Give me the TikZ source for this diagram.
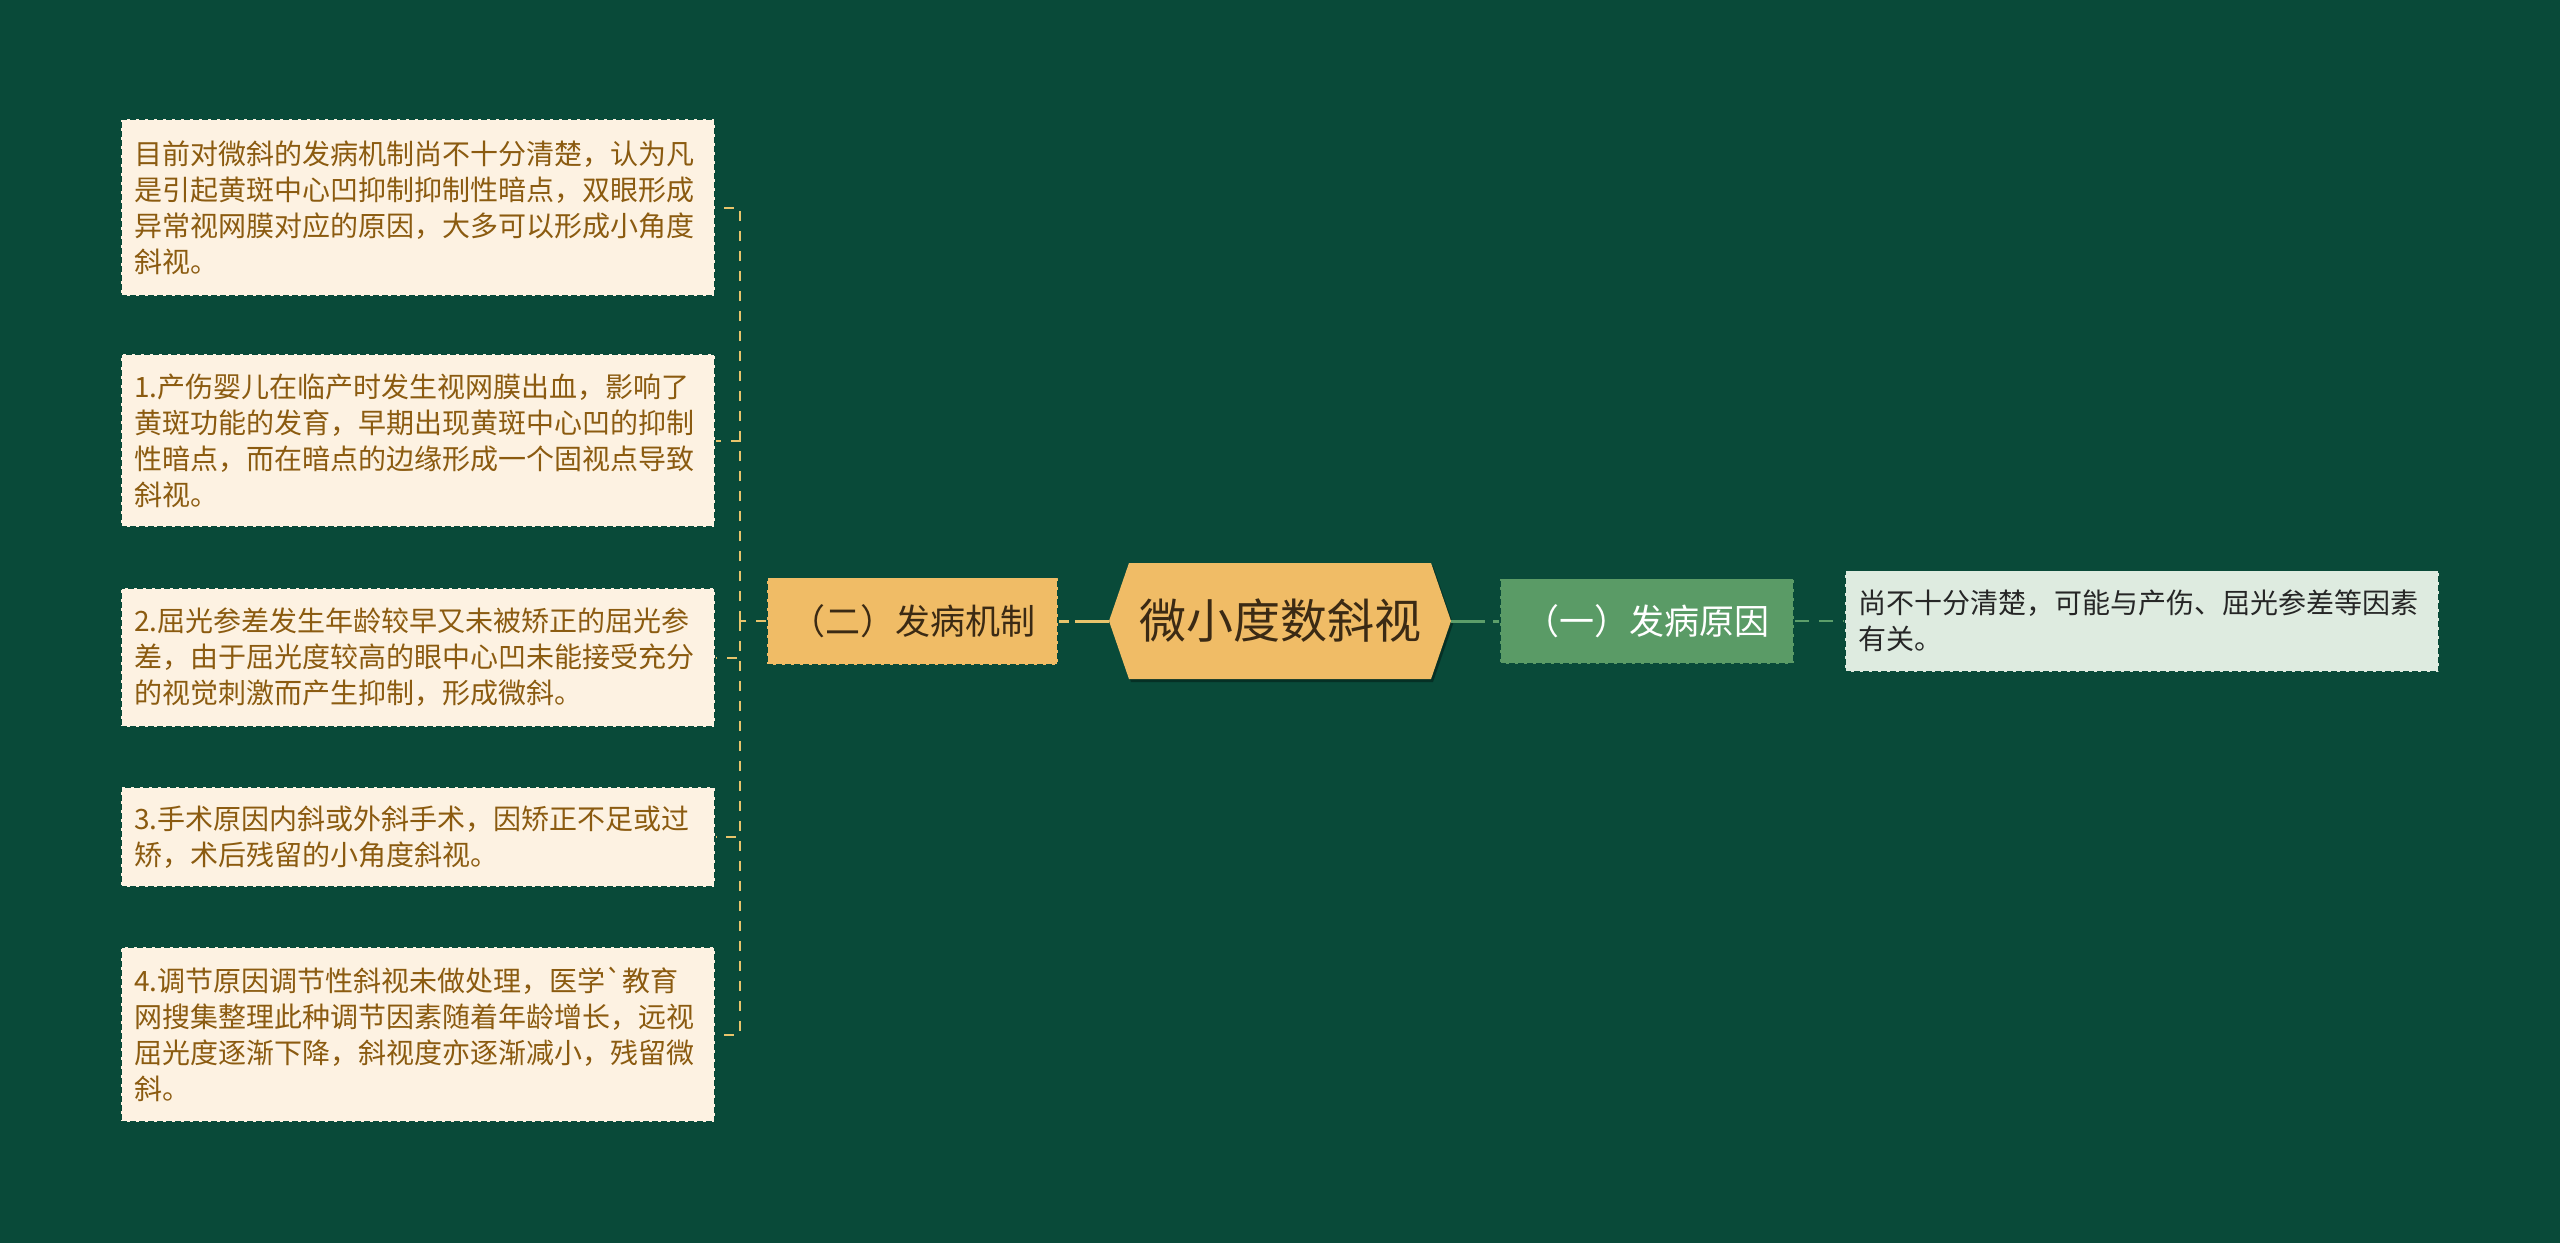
\documentclass[tikz,border=0pt]{standalone}
\usepackage{fontspec}
\setmainfont{Noto Sans CJK SC}
\newfontfamily\rawcjk{Noto Sans CJK SC}
\usetikzlibrary{shapes.symbols,shadows}
\definecolor{bgc}{HTML}{094A39}
\definecolor{orng}{HTML}{F0BC66}
\definecolor{grn}{HTML}{5A9B66}
\definecolor{leaffill}{HTML}{FDF2E2}
\definecolor{leaftext}{HTML}{8B5B10}
\definecolor{rleaffill}{HTML}{DEEBE0}
\definecolor{roottext}{HTML}{3B2A14}
\definecolor{yline}{HTML}{E8C46C}
\definecolor{gline}{HTML}{5C9E6A}
\tikzset{
  leafbox/.style={draw=bgc, dash pattern=on 6pt off 3pt, line width=1.5pt,
    fill=leaffill, text=leaftext, font=\fontsize{28}{36}\selectfont,
    align=left, text width=568pt, inner xsep=13pt, inner ysep=0pt,
    minimum width=594pt},
  midbox/.style={draw=bgc, dash pattern=on 6pt off 3pt, line width=1.5pt,
    font=\fontsize{35}{40}\selectfont, inner sep=0pt},
  rootbox/.style={shape=signal, signal to=west and east, signal pointer angle=142,
    fill=orng, text=roottext, font=\fontsize{47}{52}\selectfont,
    minimum width=342pt, minimum height=116pt, inner xsep=4pt, inner ysep=0pt,
    drop shadow={shadow xshift=2pt, shadow yshift=-3pt, fill=black, opacity=0.35}},
  yconn/.style={draw=yline, line width=3pt, dash pattern=on 34pt off 6pt},
  gconn/.style={draw=gline, line width=3pt, dash pattern=on 34pt off 8pt},
  ylink/.style={draw=yline, line width=2pt, dash pattern=on 10pt off 10pt},
  glink/.style={draw=gline, line width=2.5pt, dash pattern=on 14pt off 10pt},
}
\begin{document}
\begin{tikzpicture}[x=1pt,y=-1pt]
\fill[bgc] (0,0) rectangle (2560,1243);
\useasboundingbox (0,0) rectangle (2560,1243);

\node[rootbox] (root) at (1280,621) {微小度数斜视};
\node[midbox, fill=orng, text=roottext, minimum width=291pt, minimum height=87pt] (n2) at (912.5,621) {（二）发病机制};
\node[midbox, fill=grn, text=white, minimum width=294pt, minimum height=85pt] (n1) at (1647,621) {（一）发病原因};

\node[leafbox, fill=rleaffill, text=black!85, minimum height=101pt] (r1) at (2142,621)
  {尚不十分清楚，可能与产伤、屈光参差等因素\\有关。};

\node[leafbox, minimum height=177pt] (l1) at (418,207.5)
  {目前对微斜的发病机制尚不十分清楚，认为凡\\是引起黄斑中心凹抑制抑制性暗点，双眼形成\\异常视网膜对应的原因，大多可以形成小角度\\斜视。};
\node[leafbox, minimum height=173pt] (l2) at (418,440.5)
  {1.产伤婴儿在临产时发生视网膜出血，影响了\\黄斑功能的发育，早期出现黄斑中心凹的抑制\\性暗点，而在暗点的边缘形成一个固视点导致\\斜视。};
\node[leafbox, minimum height=139pt] (l3) at (418,657.5)
  {2.屈光参差发生年龄较早又未被矫正的屈光参\\差，由于屈光度较高的眼中心凹未能接受充分\\的视觉刺激而产生抑制，形成微斜。};
\node[leafbox, minimum height=100pt] (l4) at (418,837)
  {3.手术原因内斜或外斜手术，因矫正不足或过\\矫，术后残留的小角度斜视。};
\node[leafbox, minimum height=175pt] (l5) at (418,1034.5)
  {4.调节原因调节性斜视未做处理，医学{\rawcjk`}教育\\网搜集整理此种调节因素随着年龄增长，远视\\屈光度逐渐下降，斜视度亦逐渐减小，残留微\\斜。};

\coordinate (jn) at (740,621);

\draw[yconn] (root.west) -- (n2.east);
\draw[gconn] (root.east) -- (n1.west);
\draw[glink] (n1.east) -- (r1.west);
\draw[ylink] (n2.west) -- (jn);
\foreach \l in {l1,l2,l3,l4,l5} {
  \draw[ylink] (jn) |- (\l.east);
}
\end{tikzpicture}
\end{document}
